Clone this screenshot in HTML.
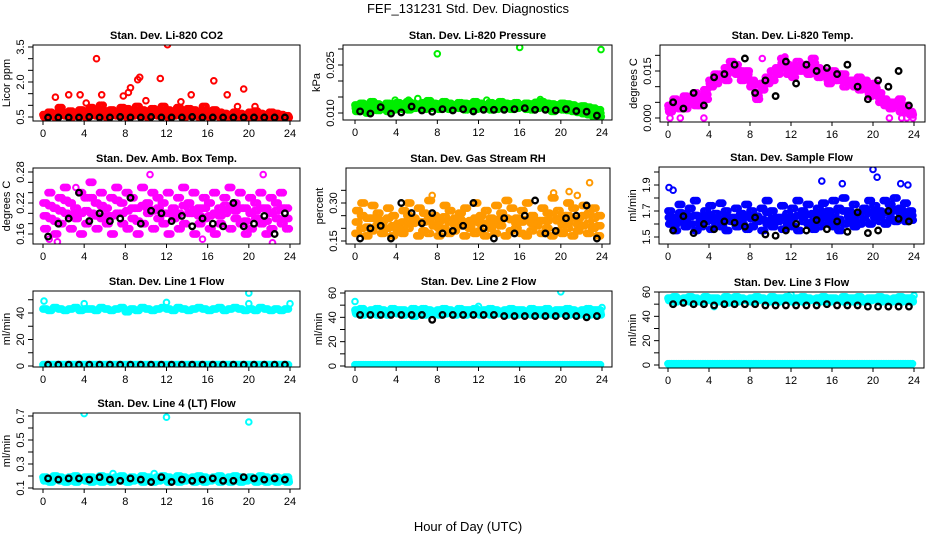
<!DOCTYPE html>
<html><head><meta charset="utf-8"><style>
html,body{margin:0;padding:0;background:#fff;}
svg{display:block;font-family:"Liberation Sans",Arial,sans-serif;}
.t{font-size:11px;font-weight:bold;text-anchor:middle;}
.k{font-size:11px;text-anchor:middle;}
</style></head><body>
<svg id="chart" width="936" height="540" viewBox="0 0 936 540">
<rect width="936" height="540" fill="#fff"/>
<text x="468" y="13" font-size="13" text-anchor="middle">FEF_131231  Std. Dev. Diagnostics</text>
<text x="468" y="531" font-size="13" text-anchor="middle">Hour of Day (UTC)</text>
</svg>
<script>
const xTicks=[0,4,8,12,16,20,24];
// CO2
const co2A=[0.6,0.7,0.65,0.9,0.6,0.75,0.7,0.8,0.65,0.9,0.7,1.0,0.75,0.8,0.7,0.9,0.85,0.7,0.95,0.8,0.75,0.85,0.7,0.95,0.8,0.75,0.9,0.7,0.85,0.8,0.7,0.95,0.75,0.8,0.7,0.65,0.6,0.7,0.65,0.6,0.7,0.75,0.65,0.6,0.7,0.65,0.6,0.55];
const co2B=[0.5,0.55,0.5,0.6,0.55,0.5,0.6,0.55,0.5,0.6,0.55,0.65,0.5,0.6,0.55,0.6,0.5,0.55,0.6,0.55,0.5,0.6,0.55,0.6,0.5,0.55,0.6,0.5,0.55,0.6,0.5,0.55,0.5,0.55,0.5,0.5,0.48,0.5,0.48,0.5,0.48,0.5,0.48,0.5,0.48,0.5,0.48,0.48];
const co2OutX=[1.2,2.5,3.6,4.2,5.2,5.7,7.8,8.3,8.5,9.2,9.4,10.0,11.4,12.1,13.4,14.4,16.6,17.9,18.9,19.5,20.6];
const co2OutY=[1.35,1.45,1.45,1.1,3.0,1.45,1.4,1.55,1.75,2.1,2.2,1.2,2.15,3.6,1.15,1.45,2.05,1.45,0.95,1.7,0.95];
const co2K=[0.48,0.48,0.48,0.48,0.5,0.48,0.48,0.5,0.48,0.48,0.5,0.48,0.48,0.48,0.5,0.48,0.48,0.48,0.48,0.48,0.48,0.48,0.48,0.48];
// Pressure
const presA=[0.0125,0.013,0.012,0.0135,0.0128,0.012,0.013,0.0125,0.0132,0.0128,0.0135,0.013,0.0125,0.0132,0.0138,0.013,0.0128,0.0135,0.013,0.0125,0.0132,0.013,0.0128,0.0135,0.013,0.0125,0.0132,0.0128,0.0135,0.013,0.0128,0.0132,0.0125,0.013,0.0128,0.0133,0.0135,0.013,0.0128,0.0125,0.013,0.0128,0.0125,0.012,0.0122,0.0118,0.0115,0.011];
const presB=[0.0105,0.011,0.0100,0.0112,0.0108,0.0115,0.0105,0.011,0.0118,0.0112,0.011,0.0115,0.0118,0.0112,0.0115,0.0118,0.0112,0.0115,0.0112,0.0118,0.0115,0.011,0.0118,0.0112,0.0115,0.0118,0.011,0.0112,0.0115,0.0118,0.0112,0.0115,0.0118,0.0112,0.011,0.0115,0.0118,0.0112,0.0105,0.0112,0.011,0.0108,0.0105,0.0102,0.0098,0.0095,0.009,0.0088];
const presOutX=[8,16,23.9,6.1,5.2,18,12.8,3.9,23.5];
const presOutY=[0.0285,0.0305,0.0298,0.0145,0.014,0.0142,0.014,0.014,0.0085];
const presK=[0.0105,0.0098,0.0118,0.0098,0.0102,0.012,0.0108,0.0104,0.0112,0.0108,0.0112,0.0105,0.011,0.011,0.011,0.0112,0.0115,0.011,0.011,0.0108,0.0112,0.0106,0.0104,0.0092];
// Temp
const tmpA=[0.004,0.006,0.003,0.007,0.005,0.008,0.004,0.009,0.012,0.014,0.013,0.016,0.018,0.017,0.015,0.013,0.010,0.008,0.011,0.013,0.015,0.016,0.019,0.017,0.016,0.018,0.015,0.017,0.019,0.016,0.014,0.013,0.015,0.012,0.014,0.011,0.012,0.013,0.010,0.009,0.011,0.008,0.006,0.005,0.004,0.006,0.003,0.002];
const tmpB=[0.002,0.004,0.005,0.003,0.006,0.004,0.007,0.006,0.010,0.011,0.014,0.012,0.015,0.014,0.012,0.015,0.012,0.006,0.009,0.011,0.012,0.014,0.016,0.014,0.013,0.015,0.017,0.014,0.016,0.013,0.015,0.011,0.012,0.014,0.010,0.012,0.010,0.009,0.012,0.007,0.008,0.005,0.004,0.003,0.005,0.002,0.004,0.001];
const tmpOutX=[0.2,1.2,3.5,21.6,22.8,23.3,23.9,11.4,9.2];
const tmpOutY=[0,0,0,0,0,0,0,0.0195,0.019];
const tmpK=[0.005,0.003,0.008,0.004,0.013,0.014,0.017,0.019,0.008,0.012,0.007,0.018,0.011,0.017,0.015,0.016,0.014,0.017,0.01,0.006,0.012,0.01,0.015,0.004];
// Amb box
const ambA=[0.22,0.24,0.21,0.23,0.25,0.22,0.21,0.24,0.23,0.26,0.22,0.24,0.21,0.23,0.25,0.22,0.24,0.23,0.21,0.25,0.22,0.24,0.23,0.22,0.24,0.21,0.23,0.25,0.22,0.24,0.21,0.23,0.22,0.24,0.21,0.23,0.25,0.22,0.24,0.21,0.23,0.22,0.24,0.21,0.23,0.22,0.24,0.21];
const ambB=[0.17,0.19,0.16,0.18,0.20,0.17,0.19,0.16,0.18,0.20,0.17,0.19,0.18,0.16,0.20,0.18,0.17,0.19,0.16,0.18,0.20,0.17,0.19,0.18,0.16,0.19,0.17,0.18,0.20,0.16,0.18,0.19,0.17,0.16,0.18,0.20,0.17,0.19,0.18,0.16,0.17,0.19,0.18,0.16,0.17,0.19,0.18,0.17];
const ambOutX=[0.6,1.4,10.4,21.4,22.3,3.2,15.5];
const ambOutY=[0.15,0.145,0.275,0.275,0.143,0.25,0.15];
const ambK=[0.155,0.18,0.19,0.24,0.185,0.2,0.185,0.19,0.23,0.18,0.205,0.2,0.185,0.195,0.175,0.19,0.18,0.175,0.22,0.175,0.18,0.195,0.16,0.2];
// RH
const rhA=[0.18,0.2,0.17,0.19,0.21,0.18,0.2,0.17,0.19,0.18,0.2,0.22,0.17,0.19,0.18,0.21,0.17,0.2,0.18,0.19,0.21,0.17,0.2,0.18,0.19,0.17,0.2,0.18,0.21,0.17,0.19,0.2,0.18,0.17,0.19,0.21,0.18,0.2,0.17,0.19,0.18,0.2,0.17,0.19,0.21,0.18,0.2,0.17];
const rhB=[0.27,0.3,0.24,0.29,0.26,0.23,0.28,0.25,0.22,0.27,0.3,0.24,0.28,0.26,0.31,0.25,0.23,0.29,0.27,0.24,0.26,0.28,0.23,0.3,0.25,0.27,0.24,0.29,0.26,0.31,0.28,0.24,0.27,0.3,0.25,0.23,0.28,0.26,0.32,0.27,0.25,0.3,0.28,0.24,0.29,0.26,0.28,0.25];
const rhOutX=[7.5,19.3,20.8,22.8,21.6];
const rhOutY=[0.33,0.34,0.345,0.38,0.33];
const rhK=[0.16,0.2,0.21,0.16,0.3,0.26,0.22,0.26,0.18,0.19,0.21,0.3,0.2,0.16,0.24,0.18,0.25,0.31,0.18,0.19,0.24,0.25,0.29,0.16];
// Sample flow
const smpA=[1.7,1.65,1.75,1.68,1.72,1.78,1.66,1.7,1.74,1.68,1.76,1.7,1.65,1.72,1.68,1.75,1.7,1.66,1.72,1.78,1.7,1.65,1.74,1.68,1.72,1.78,1.7,1.75,1.68,1.72,1.76,1.7,1.78,1.72,1.8,1.7,1.75,1.68,1.72,1.78,1.74,1.7,1.78,1.75,1.8,1.72,1.76,1.7];
const smpB=[1.6,1.55,1.62,1.58,1.6,1.55,1.58,1.62,1.56,1.6,1.58,1.55,1.62,1.58,1.6,1.56,1.58,1.62,1.55,1.6,1.58,1.62,1.56,1.6,1.58,1.55,1.62,1.6,1.56,1.58,1.62,1.6,1.58,1.55,1.6,1.62,1.58,1.6,1.62,1.6,1.65,1.62,1.6,1.64,1.62,1.65,1.62,1.63];
const smpOutX=[0.1,0.5,15,17,20,20.4,22.7,23.4];
const smpOutY=[1.88,1.86,1.93,1.91,2.02,1.96,1.91,1.9];
const smpK=[1.55,1.66,1.53,1.6,1.56,1.62,1.61,1.58,1.65,1.52,1.51,1.55,1.6,1.55,1.63,1.56,1.62,1.54,1.69,1.53,1.55,1.7,1.64,1.62];
// Line 1
const l1A=[43,42,44,43,42,43,44,42,43,43,42,44,43,42,43,44,41,43,42,44,43,42,43,44,43,42,44,43,42,43,44,43,42,43,44,42,43,44,43,42,43,42,44,43,42,43,42,43];
const l1B=[1,1,1,1,1,1,1,1,1,1,1,1,1,1,1,1,1,1,1,1,1,1,1,1,1,1,1,1,1,1,1,1,1,1,1,1,1,1,1,1,1,1,1,1,1,1,1,1];
const l1OutX=[0.1,4,12,20,20,24];
const l1OutY=[49,47,48,55,47,47];
const l1K=[1,1,1,1,1,1,1,1,1,1,1,1,1,1,1,1,1,1,1,1,1,1,1,1];
// Line 2
const l2A=[46,47,45,46,47,46,45,47,46,46,45,47,46,47,46,45,46,47,46,45,47,46,46,47,45,46,47,46,45,46,47,46,46,45,47,46,46,47,45,46,46,47,46,45,46,47,46,46];
const l2B=[43,42,44,43,42,43,42,44,43,42,43,41,43,42,44,43,42,43,44,42,43,42,43,44,42,43,42,43,44,42,43,42,43,44,42,43,42,43,42,43,44,42,43,42,43,42,43,42];
const l2Z=[1,1,1,1,1,1,1,1,1,1,1,1,1,1,1,1,1,1,1,1,1,1,1,1,1,1,1,1,1,1,1,1,1,1,1,1,1,1,1,1,1,1,1,1,1,1,1,1];
const l2OutX=[0,20,24,12];
const l2OutY=[53,61,48,49];
const l2K=[42,42,42,42,42,42,42,38,42,42,42,42,42,42,41,41,41,41,41,41,41,41,40,41];
// Line 3
const l3A=[55,56,54,55,56,55,54,56,55,55,54,56,55,56,55,54,55,56,55,54,56,55,55,56,54,55,56,55,54,55,56,55,55,54,56,55,55,56,54,55,55,56,55,54,55,56,55,55];
const l3B=[53,52,54,53,52,53,52,54,53,52,53,51,53,52,54,53,52,53,54,52,53,52,53,54,52,53,52,53,54,52,53,52,53,54,52,53,52,53,52,53,54,52,53,52,53,52,53,52];
const l3Z=[1,1,1,1,1,1,1,1,1,1,1,1,1,1,1,1,1,1,1,1,1,1,1,1,1,1,1,1,1,1,1,1,1,1,1,1,1,1,1,1,1,1,1,1,1,1,1,1];
const l3OutX=[12,24,4.5];
const l3OutY=[58,57,48];
const l3K=[50,51,50,50,49,50,50,50,50,49,49,49,49,49,49,50,49,49,49,48,48,48,48,48];
// Line 4
const l4A=[0.19,0.18,0.2,0.19,0.18,0.19,0.2,0.18,0.19,0.19,0.18,0.2,0.19,0.18,0.19,0.2,0.18,0.19,0.18,0.2,0.19,0.18,0.19,0.2,0.19,0.18,0.2,0.19,0.18,0.19,0.2,0.19,0.18,0.19,0.2,0.18,0.19,0.2,0.19,0.18,0.19,0.18,0.2,0.19,0.18,0.19,0.18,0.19];
const l4B=[0.16,0.15,0.17,0.16,0.15,0.16,0.15,0.17,0.16,0.15,0.16,0.15,0.16,0.15,0.17,0.16,0.15,0.16,0.17,0.15,0.16,0.15,0.16,0.17,0.15,0.16,0.15,0.16,0.17,0.15,0.16,0.15,0.16,0.17,0.15,0.16,0.15,0.16,0.15,0.16,0.17,0.15,0.16,0.15,0.16,0.15,0.16,0.15];
const l4OutX=[4,12,20,6.8,10.8];
const l4OutY=[0.72,0.69,0.65,0.22,0.22];
const l4K=[0.18,0.17,0.18,0.18,0.17,0.19,0.17,0.16,0.18,0.17,0.15,0.19,0.15,0.17,0.16,0.17,0.18,0.16,0.16,0.19,0.18,0.17,0.18,0.17];

const NS='http://www.w3.org/2000/svg';
const svg=document.getElementById('chart');
function el(tag,attrs,parent){const e=document.createElementNS(NS,tag);for(const k in attrs)e.setAttribute(k,attrs[k]);(parent||svg).appendChild(e);return e;}

const panels=[
 {id:'co2',title:'Stan. Dev. Li-820 CO2',yl:'Licor ppm',L:33,R:300,T:45,B:121,x0:43,x24:290,v0:0.5,p0:117,v1:3.5,p1:47,ticks:[0.5,1,1.5,2,2.5,3,3.5],labels:[0.5,2,3.5],dec:1,col:'#ff0000',A:co2A,Bs:co2B,Z:null,oX:co2OutX,oY:co2OutY,K:co2K},
 {id:'pressure',title:'Stan. Dev. Li-820 Pressure',yl:'kPa',L:343,R:612,T:45,B:120,x0:355,x24:602,v0:0.010,p0:113,v1:0.025,p1:65,ticks:[0.010,0.015,0.020,0.025,0.030],labels:[0.010,0.025],dec:3,col:'#00ee00',A:presA,Bs:presB,Z:null,oX:presOutX,oY:presOutY,K:presK},
 {id:'temp',title:'Stan. Dev. Li-820 Temp.',yl:'degrees C',L:660,R:925,T:45,B:122,x0:668,x24:914,v0:0,p0:118,v1:0.015,p1:71,ticks:[0,0.005,0.010,0.015,0.020],labels:[0,0.015],dec:3,col:'#ff00ff',A:tmpA,Bs:tmpB,Z:null,oX:tmpOutX,oY:tmpOutY,K:tmpK},
 {id:'amb-box',title:'Stan. Dev. Amb. Box Temp.',yl:'degrees C',L:33,R:300,T:168,B:244,x0:43,x24:290,v0:0.16,p0:234,v1:0.28,p1:172,ticks:[0.16,0.18,0.20,0.22,0.24,0.26,0.28],labels:[0.16,0.22,0.28],dec:2,col:'#ff00ff',A:ambA,Bs:ambB,Z:null,oX:ambOutX,oY:ambOutY,K:ambK},
 {id:'rh',title:'Stan. Dev. Gas Stream RH',yl:'percent',L:346,R:610,T:168,B:244,x0:355,x24:602,v0:0.15,p0:241,v1:0.30,p1:203,ticks:[0.15,0.20,0.25,0.30,0.35],labels:[0.15,0.30],dec:2,col:'#ff9900',A:rhA,Bs:rhB,Z:null,oX:rhOutX,oY:rhOutY,K:rhK},
 {id:'sample-flow',title:'Stan. Dev. Sample Flow',yl:'ml/min',L:659,R:924,T:167,B:244,x0:668,x24:914,v0:1.5,p0:237,v1:1.9,p1:185,ticks:[1.5,1.6,1.7,1.8,1.9,2.0],labels:[1.5,1.7,1.9],dec:1,col:'#0000ff',A:smpA,Bs:smpB,Z:null,oX:smpOutX,oY:smpOutY,K:smpK},
 {id:'line1',title:'Stan. Dev. Line 1 Flow',yl:'ml/min',L:33,R:300,T:291,B:367,x0:43,x24:290,v0:0,p0:366,v1:40,p1:313,ticks:[0,10,20,30,40,50],labels:[0,20,40],dec:0,col:'#00ffff',A:l1A,Bs:null,Z:l1B,oX:l1OutX,oY:l1OutY,K:l1K},
 {id:'line2',title:'Stan. Dev. Line 2 Flow',yl:'ml/min',L:345,R:612,T:291,B:367,x0:355,x24:602,v0:0,p0:366,v1:60,p1:293,ticks:[0,10,20,30,40,50,60],labels:[0,20,40,60],dec:0,col:'#00ffff',A:l2A,Bs:l2B,Z:l2Z,oX:l2OutX,oY:l2OutY,K:l2K},
 {id:'line3',title:'Stan. Dev. Line 3 Flow',yl:'ml/min',L:659,R:924,T:292,B:368,x0:668,x24:914,v0:0,p0:365,v1:60,p1:292,ticks:[0,10,20,30,40,50,60],labels:[0,20,40,60],dec:0,col:'#00ffff',A:l3A,Bs:l3B,Z:l3Z,oX:l3OutX,oY:l3OutY,K:l3K},
 {id:'line4',title:'Stan. Dev. Line 4 (LT) Flow',yl:'ml/min',L:33,R:300,T:413,B:489,x0:43,x24:290,v0:0.1,p0:488,v1:0.7,p1:416,ticks:[0.1,0.2,0.3,0.4,0.5,0.6,0.7],labels:[0.1,0.3,0.5,0.7],dec:1,col:'#00ffff',A:l4A,Bs:l4B,Z:null,oX:l4OutX,oY:l4OutY,K:l4K}
];

const offsets=[0,0.17,0.34];
function drawPanel(p){
  const g=el('g',{});
  
  
  const xs=h=>p.x0+(p.x24-p.x0)*h/24;
  const ys=v=>p.p0+(p.p1-p.p0)*(v-p.v0)/(p.v1-p.v0);
  const clip='clip-'+p.id;
  const cp=el('clipPath',{id:clip},g);
  el('rect',{x:p.L,y:p.T,width:p.R-p.L,height:p.B-p.T},cp);
  const pts=el('g',{'clip-path':'url(#'+clip+')'},g);
  function pt(h,v,color,sw,name){
    const c=el('circle',{cx:xs(h).toFixed(1),cy:ys(v).toFixed(1),r:2.8,fill:'none',stroke:color,'stroke-width':sw},pts);
    
    
  }
  if(p.Z){p.Z.forEach((v,i)=>offsets.forEach(o=>pt(i*0.5+o,v,p.col,2.2,p.id+'-zero-point')));}
  if(p.Bs){p.Bs.forEach((v,i)=>offsets.forEach(o=>pt(i*0.5+o+0.08,v,p.col,2.2,p.id+'-point')));}
  p.A.forEach((v,i)=>offsets.forEach(o=>pt(i*0.5+o,v,p.col,2.2,p.id+'-point')));
  if(p.Bs){p.A.forEach((v,i)=>offsets.forEach(o=>pt(i*0.5+o+0.04,(v+p.Bs[i])/2,p.col,2.2,p.id+'-point')));}
  p.oX.forEach((h,i)=>pt(h,p.oY[i],p.col,2,p.id+'-outlier'));
  p.K.forEach((v,i)=>pt(i+0.5,v,'#000',2.3,p.id+'-hourly-point'));
  const b=el('rect',{x:p.L,y:p.T,width:p.R-p.L,height:p.B-p.T,fill:'none',stroke:'#000','stroke-width':1},g);
  
  
  const t=el('text',{x:(p.L+p.R)/2,y:p.T-6,class:'t'},g);
  t.textContent=p.title;
  
  
  el('line',{x1:xs(0),x2:xs(24),y1:p.B,y2:p.B,stroke:'#000'},g);
  xTicks.forEach(h=>{
    el('line',{x1:xs(h),x2:xs(h),y1:p.B,y2:p.B+4,stroke:'#000'},g);
    const tx=el('text',{x:xs(h),y:p.B+16,class:'k'},g);
    tx.textContent=h;
    
    
  });
  p.ticks.forEach(v=>{
    el('line',{x1:p.L-5,x2:p.L,y1:ys(v),y2:ys(v),stroke:'#000'},g);
  });
  p.labels.forEach(v=>{
    const yy=ys(v);
    const tx=el('text',{x:p.L-9,y:yy,class:'k',transform:'rotate(-90 '+(p.L-9)+' '+yy+')'},g);
    tx.textContent=v.toFixed(p.dec);
    
    
  });
  const ym=(p.T+p.B)/2;
  const yl=el('text',{x:p.L-23,y:ym,class:'k',transform:'rotate(-90 '+(p.L-23)+' '+ym+')'},g);
  yl.textContent=p.yl;
  
  
}
panels.forEach(drawPanel);
</script>
</body></html>
